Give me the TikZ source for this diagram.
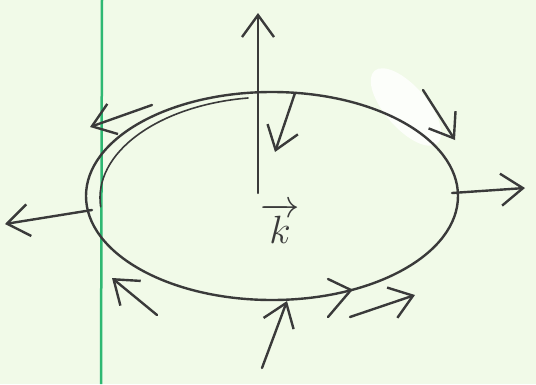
\documentclass[tikz,border=0pt]{standalone}
\usetikzlibrary{arrows.meta}
\definecolor{paper}{HTML}{F1FAE8}
\definecolor{marginline}{HTML}{2EB872}
\definecolor{pencil}{HTML}{3A3A3A}
\begin{document}
\begin{tikzpicture}[x=1pt,y=-1pt,
  pencilline/.style={draw=pencil, line width=2.4pt, line cap=round, line join=round},
  vecarrow/.style={pencilline, -{Straight Barb[length=22pt,width=32pt]}}]
\fill[paper] (0,0) rectangle (536,384);
\useasboundingbox (0,0) rectangle (536,384);
% eraser smudge
\fill[white, opacity=0.8, rotate around={-49:(406,107)}] (406,107) ellipse [x radius=48, y radius=21];
% margin line
\draw[marginline, line width=2.5pt] (102,0) -- (101,384);
% ellipse
\draw[pencilline] (272,196) ellipse [x radius=186, y radius=104];
\draw[pencilline, line width=1.6pt] (272,198) ++(175:172 and 101) arc[start angle=175, end angle=262, x radius=172, y radius=101];
% vectors
\coordinate (c) at (258,193);
\coordinate (up) at (258,13);
\draw[vecarrow] (c) -- (up);
\coordinate (a1) at (152,105); \coordinate (b1) at (90,127);
\draw[vecarrow] (a1) -- (b1);
\coordinate (a2) at (295,93); \coordinate (b2) at (275,152);
\draw[vecarrow] (a2) -- (b2);
\coordinate (a3) at (423,90); \coordinate (b3) at (455,140);
\draw[vecarrow] (a3) -- (b3);
\coordinate (a4) at (452,193); \coordinate (b4) at (525,188);
\draw[vecarrow] (a4) -- (b4);
\coordinate (a5) at (92,210); \coordinate (b5) at (5,224);
\draw[vecarrow] (a5) -- (b5);
\coordinate (a6) at (157,315); \coordinate (b6) at (112,278);
\draw[vecarrow] (a6) -- (b6);
\coordinate (a7) at (262,368); \coordinate (b7) at (287,301);
\draw[vecarrow] (a7) -- (b7);
\coordinate (a8) at (350,317); \coordinate (b8) at (415,295);
\draw[vecarrow] (a8) -- (b8);
% tangent marker on the ellipse
\draw[pencilline] (328,279) -- (351,290) -- (328,317);
% label
\node[text=pencil, inner sep=0pt, anchor=base, scale=1.9] (k) at (280,243) {\huge$\overrightarrow{k}$};
\end{tikzpicture}
\end{document}
